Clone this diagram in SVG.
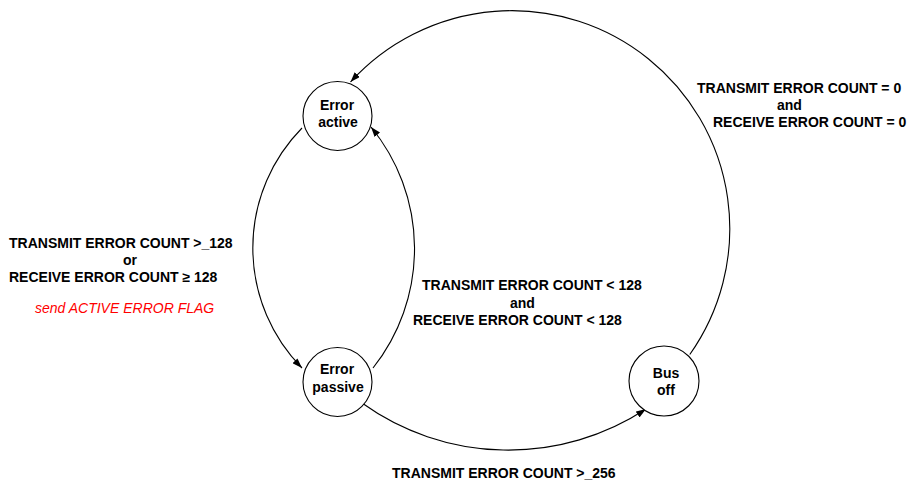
<svg xmlns="http://www.w3.org/2000/svg" width="914" height="485" viewBox="0 0 914 485">
  <style>
    .state { fill: #ffffff; stroke: #000000; stroke-width: 1.1; }
    .name { font-family: "Liberation Sans", Arial, sans-serif; font-size: 14px; font-weight: bold; fill: #000000; text-anchor: middle; }
    .cond { font-family: "Liberation Sans", Arial, sans-serif; font-size: 14px; font-weight: bold; fill: #000000; }
    .action { font-family: "Liberation Sans", Arial, sans-serif; font-size: 14px; font-style: italic; fill: #ff0000; }
    .edge { fill: none; stroke: #000000; stroke-width: 1.1; marker-end: url(#arrow); }
  </style>
  <defs>
    <marker id="arrow" markerUnits="userSpaceOnUse" markerWidth="11" markerHeight="7" refX="10" refY="3.5" orient="auto">
      <path d="M0,0 L10,3.5 L0,7 Z" fill="#000000"/>
    </marker>
  </defs>
  <rect width="914" height="485" fill="#ffffff"/>

  <!-- transitions -->
  <g id="connectors">
    <!-- bus off back to error active -->
    <path class="edge" d="M689.8,354.5 A218,218 0 0 0 350.5,82"/>
    <!-- error active to error passive -->
    <path class="edge" d="M302,128 A171,171 0 0 0 302,368"/>
    <!-- error passive back to error active -->
    <path class="edge" d="M373,368 A192,192 0 0 0 371,127"/>
    <!-- error passive to bus off -->
    <path class="edge" d="M362,403 A251,251 0 0 0 646,409"/>
  </g>

  <g id="error-active">
    <circle class="state" cx="337.5" cy="116" r="34.5"/>
    <text class="name" x="337" y="110">Error</text>
    <text class="name" x="338" y="127">active</text>
  </g>

  <g id="error-passive">
    <circle class="state" cx="337.5" cy="382" r="34.5"/>
    <text class="name" x="337" y="374">Error</text>
    <text class="name" x="338" y="392">passive</text>
  </g>

  <g id="bus-off">
    <circle class="state" cx="664" cy="381" r="35"/>
    <text class="name" x="666" y="378">Bus</text>
    <text class="name" x="666" y="395">off</text>
  </g>

  <!-- transition conditions -->
  <g id="label-to-passive">
    <text class="cond" x="9" y="248">TRANSMIT ERROR COUNT &gt;_128</text>
    <text class="cond" x="123" y="265">or</text>
    <text class="cond" x="9" y="282">RECEIVE ERROR COUNT ≥ 128</text>
    <text class="action" x="35" y="313">send ACTIVE ERROR FLAG</text>
  </g>

  <g id="label-to-active">
    <text class="cond" x="422" y="290">TRANSMIT ERROR COUNT &lt; 128</text>
    <text class="cond" x="510" y="308">and</text>
    <text class="cond" x="413" y="325">RECEIVE ERROR COUNT &lt; 128</text>
  </g>

  <g id="label-recover">
    <text class="cond" x="697" y="93">TRANSMIT ERROR COUNT = 0</text>
    <text class="cond" x="777" y="110">and</text>
    <text class="cond" x="713" y="127">RECEIVE ERROR COUNT = 0</text>
  </g>

  <g id="label-bus-off">
    <text class="cond" x="392" y="478">TRANSMIT ERROR COUNT &gt;_256</text>
  </g>
</svg>
